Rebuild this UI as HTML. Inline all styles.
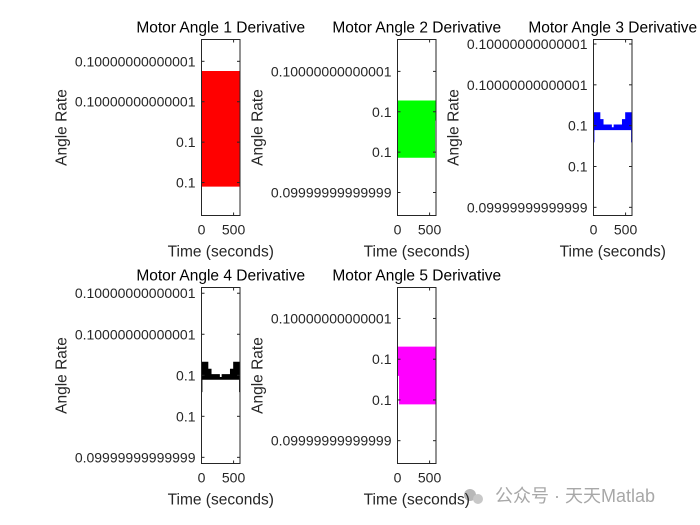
<!DOCTYPE html>
<html><head><meta charset="utf-8">
<style>
html,body{margin:0;padding:0;background:#fff;}
svg{display:block;font-family:"Liberation Sans","Noto Sans CJK SC",sans-serif;}
</style></head>
<body>
<svg id="chart" width="700" height="525" viewBox="0 0 700 525" xmlns="http://www.w3.org/2000/svg">
<g>
  <circle cx="470" cy="495" r="6" fill="#b8b8b8"/><circle cx="478" cy="499" r="5" fill="#c8c8c8"/>
  <text x="495" y="502" font-size="18" fill="#a8a8a8" font-family="'Liberation Sans','Noto Sans CJK SC',sans-serif">公众号 · 天天Matlab</text>
</g>
</svg>
<script>
// shared time axis
const timeTicks = [0, 500];
const timeDomain = [0, 600];
// Plot 1 (red)
const p1Times = [0, 600];
const p1Upper = [3.75, 3.75];
const p1Lower = [0.91, 0.91];
const p1Ticks = [1, 2, 3, 4];
const p1TickLabels = ["0.1", "0.1", "0.10000000000001", "0.10000000000001"];
// Plot 2 (green)
const p2Times = [0, 580, 580, 600];
const p2Upper = [3.27, 3.27, 3.27, 3.27];
const p2Lower = [1.87, 1.87, 2.79, 2.79];
const p2Ticks = [1, 2, 3, 4];
const p2TickLabels = ["0.09999999999999", "0.1", "0.1", "0.10000000000001"];
// Plot 3 (blue)
const p3Times = [0, 8, 8, 100, 100, 150, 150, 280, 280, 320, 320, 450, 450, 500, 500, 592, 592, 600];
const p3Upper = [3.32, 3.32, 3.32, 3.32, 3.15, 3.15, 3.02, 3.02, 2.95, 2.95, 3.02, 3.02, 3.15, 3.15, 3.32, 3.32, 3.32, 3.32];
const p3Lower = [2.6, 2.6, 2.9, 2.9, 2.9, 2.9, 2.9, 2.9, 2.9, 2.9, 2.9, 2.9, 2.9, 2.9, 2.9, 2.9, 2.6, 2.6];
const p3Ticks = [1, 2, 3, 4, 5];
const p3TickLabels = ["0.09999999999999", "0.1", "0.1", "0.10000000000001", "0.10000000000001"];
// Plot 4 (black)
const p4Times = p3Times.slice();
const p4Upper = p3Upper.slice();
const p4Lower = p3Lower.slice();
const p4Ticks = [1, 2, 3, 4, 5];
const p4TickLabels = ["0.09999999999999", "0.1", "0.1", "0.10000000000001", "0.10000000000001"];
// Plot 5 (magenta)
const p5Times = [0, 30, 30, 600];
const p5Upper = [3.3, 3.3, 3.3, 3.3];
const p5Lower = [2.6, 2.6, 1.9, 1.9];
const p5Ticks = [1, 2, 3, 4];
const p5TickLabels = ["0.09999999999999", "0.1", "0.1", "0.10000000000001"];

const NS = "http://www.w3.org/2000/svg";
const svg = document.getElementById("chart");
function mk(tag, attrs, parent){const e=document.createElementNS(NS,tag);for(const k in attrs)e.setAttribute(k,attrs[k]);parent.appendChild(e);return e;}

function drawPlot(idx, box, yDom, times, upper, lower, ticks, labels, color){
  const g = mk("g", {}, svg);
  
  
  const sx = v => box.x + (v - timeDomain[0]) / (timeDomain[1] - timeDomain[0]) * box.w;
  const sy = v => box.y + box.h - (v - yDom[0]) / (yDom[1] - yDom[0]) * box.h;
  let d = "M" + times.map((t,i)=>sx(t)+","+sy(upper[i])).join(" L");
  for (let i=times.length-1;i>=0;i--) d += " L" + sx(times[i]) + "," + sy(lower[i]);
  d += " Z";
  const area = mk("path", {d: d, fill: color, stroke: color, "stroke-width": 0.8}, g);
  
  
  const fr = mk("rect", {x: box.x, y: box.y, width: box.w, height: box.h, fill: "none", stroke: "#262626", "stroke-width": 1}, g);
  
  
  ticks.forEach((tv, i) => {
    const y = sy(tv);
    mk("line", {x1: box.x, x2: box.x + 3, y1: y, y2: y, stroke: "#262626"}, g);
    mk("line", {x1: box.x + box.w, x2: box.x + box.w - 3, y1: y, y2: y, stroke: "#262626"}, g);
    const t = mk("text", {x: box.x - 6, y: y + 5, "text-anchor": "end", "font-size": 14, fill: "#262626"}, g);
    t.textContent = labels[i];
    
    
  });
  timeTicks.forEach(tv => {
    const x = sx(tv);
    mk("line", {x1: x, x2: x, y1: box.y + box.h, y2: box.y + box.h - 3, stroke: "#262626"}, g);
    mk("line", {x1: x, x2: x, y1: box.y, y2: box.y + 3, stroke: "#262626"}, g);
    const t = mk("text", {x: x, y: box.y + box.h + 19, "text-anchor": "middle", "font-size": 14, fill: "#262626"}, g);
    t.textContent = String(tv);
    
    
  });
  const cx = box.x + box.w / 2;
  const title = mk("text", {x: cx, y: box.y - 7, "text-anchor": "middle", "font-size": 15.5, fill: "#000"}, g);
  title.textContent = "Motor Angle " + idx + " Derivative";
  
  
  const xl = mk("text", {x: cx, y: box.y + box.h + 41, "text-anchor": "middle", "font-size": 15.5, fill: "#262626"}, g);
  xl.textContent = "Time (seconds)";
  
  
  const ylx = box.x - 135, yly = box.y + box.h / 2;
  const yl = mk("text", {x: ylx, y: yly, "text-anchor": "middle", "font-size": 15.5, fill: "#262626", transform: "rotate(-90 " + ylx + " " + yly + ")"}, g);
  yl.textContent = "Angle Rate";
  
  
}

drawPlot(1, {x: 201.5, y: 39.5, w: 38.5, h: 176}, [0.185, 4.54], p1Times, p1Upper, p1Lower, p1Ticks, p1TickLabels, "#ff0000");
drawPlot(2, {x: 397.5, y: 39.5, w: 38.5, h: 176}, [0.43, 4.79], p2Times, p2Upper, p2Lower, p2Ticks, p2TickLabels, "#00ff00");
drawPlot(3, {x: 593.5, y: 39.5, w: 38.5, h: 176}, [0.80, 5.11], p3Times, p3Upper, p3Lower, p3Ticks, p3TickLabels, "#0000ff");
drawPlot(4, {x: 201.5, y: 287.5, w: 38.5, h: 176}, [0.85, 5.14], p4Times, p4Upper, p4Lower, p4Ticks, p4TickLabels, "#000000");
drawPlot(5, {x: 397.5, y: 287.5, w: 38.5, h: 176}, [0.44, 4.76], p5Times, p5Upper, p5Lower, p5Ticks, p5TickLabels, "#ff00ff");
</script>
</body></html>
